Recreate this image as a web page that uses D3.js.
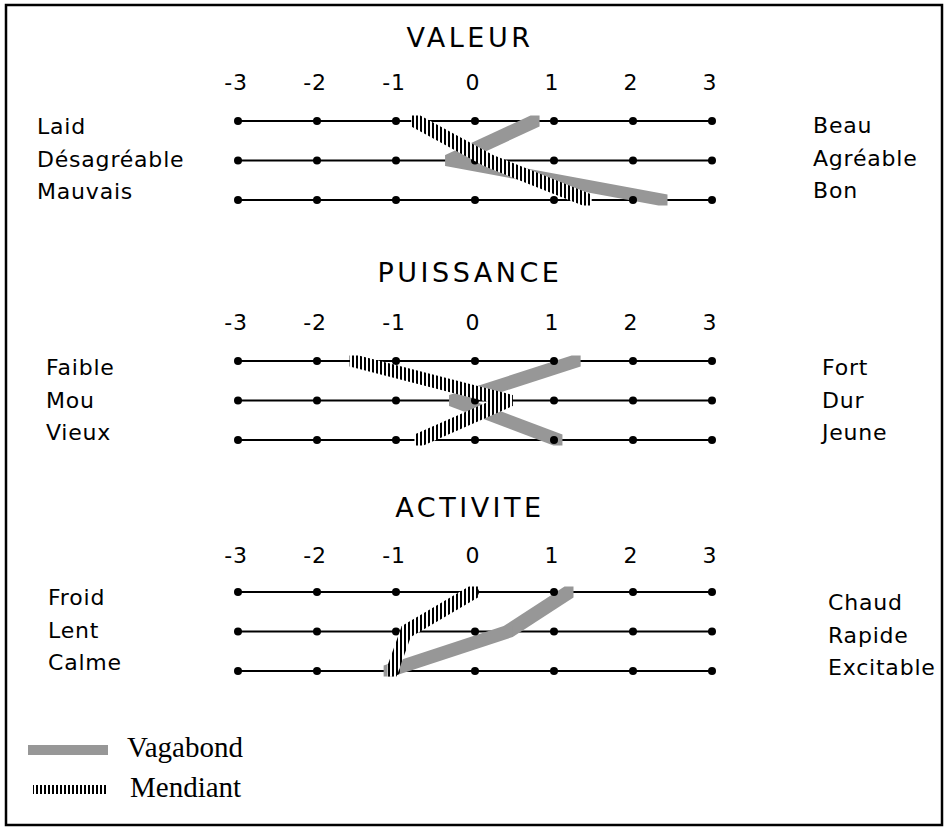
<!DOCTYPE html>
<meta charset="utf-8">
<head>
<style>
  body { margin: 0; background: #fff; }
  svg text { font-family: "DejaVu Sans", sans-serif; fill: #000; }
  .lab { font-size: 22px; letter-spacing: 0.8px; }
  .title { font-size: 27px; letter-spacing: 3.5px; }
  .leg { font-family: "Liberation Serif", "Times New Roman", serif; font-size: 29px; }
</style>
</head>
<body>
<script src="https://d3js.org/d3.v7.min.js"></script>
<script>
// scale points of the semantic differential
var scaleTicks = [-3, -2, -1, 0, 1, 2, 3];
var sections = ["VALEUR", "PUISSANCE", "ACTIVITE"];
var leftLabels = [["Laid", "Désagréable", "Mauvais"], ["Faible", "Mou", "Vieux"], ["Froid", "Lent", "Calme"]];
var rightLabels = [["Beau", "Agréable", "Bon"], ["Fort", "Dur", "Jeune"], ["Chaud", "Rapide", "Excitable"]];
// profile values, one per adjective pair
var vagabond = [[0.76, -0.32, 2.38], [1.28, -0.27, 1.05], [1.19, 0.42, -1.1]];
var mendiant = [[-0.75, 0.17, 1.42], [-1.53, 0.42, -0.71], [-0.02, -0.87, -1.05]];
var seriesNames = ["Vagabond", "Mendiant"];

// layout
var W = 945, H = 830;
var rowTop = [121, 361, 592], rowGap = 39.5;
var titleY = [47, 282, 517], tickY = [90, 330, 563];
var leftX = [37, 46, 48], rightX = [813, 822, 828];
var leftBase = [134, 375, 605], rightBase = [133, 375, 610], labGap = 32.5;
var penW = 9, penH = 11, grey = "#979797";

var svg = d3.select("body").append("svg")
    .attr("width", W).attr("height", H);

var defs = svg.append("defs");
var pat = defs.append("pattern").attr("id", "hatch")
    .attr("patternUnits", "userSpaceOnUse")
    .attr("width", 4).attr("height", 20);
pat.append("rect").attr("width", 4).attr("height", 20).attr("fill", "#fff");
pat.append("rect").attr("width", 2).attr("height", 20).attr("fill", "#000");

// frame
svg.append("rect")
    .attr("x", 6).attr("y", 5).attr("width", 936).attr("height", 820)
    .attr("fill", "none").attr("stroke", "#000").attr("stroke-width", 2.5);

var x = d3.scaleLinear().domain([-3, 3]).range([238, 712]);

// a rectangular pen dragged from one point to the next
function penPath(seg) {
    var pts = [];
    seg.forEach(function(p) {
        [-1, 1].forEach(function(sx) {
            [-1, 1].forEach(function(sy) {
                pts.push([p[0] + sx * penW / 2, p[1] + sy * penH / 2]);
            });
        });
    });
    return "M" + d3.polygonHull(pts).join("L") + "Z";
}

sections.forEach(function(name, s) {
    var y = d3.scaleLinear().domain([0, 2]).range([rowTop[s], rowTop[s] + 2 * rowGap]);
    var g = svg.append("g");

    g.append("text").attr("class", "title")
        .attr("x", 470).attr("y", titleY[s])
        .attr("text-anchor", "middle").text(name);

    g.selectAll(".tick").data(scaleTicks).enter().append("text")
        .attr("class", "lab")
        .attr("x", function(d) { return x(d) - 2; })
        .attr("y", tickY[s])
        .attr("text-anchor", "middle")
        .text(function(d) { return d; });

    // rating lines
    [0, 1, 2].forEach(function(r) {
        g.append("line")
            .attr("x1", x(-3)).attr("x2", x(3))
            .attr("y1", y(r)).attr("y2", y(r))
            .attr("stroke", "#000").attr("stroke-width", 2);
    });

    g.selectAll(".lt").data(leftLabels[s]).enter().append("text")
        .attr("class", "lab")
        .attr("x", leftX[s])
        .attr("y", function(d, i) { return leftBase[s] + i * labGap; })
        .text(function(d) { return d; });

    g.selectAll(".rt").data(rightLabels[s]).enter().append("text")
        .attr("class", "lab")
        .attr("x", rightX[s])
        .attr("y", function(d, i) { return rightBase[s] + i * labGap; })
        .text(function(d) { return d; });

    function segs(vals) {
        return d3.pairs(vals.map(function(v, i) { return [x(v), y(i)]; }));
    }

    g.selectAll(".vag").data(segs(vagabond[s])).enter().append("path")
        .attr("d", penPath).attr("fill", grey);

    var dots = [];
    [0, 1, 2].forEach(function(r) {
        scaleTicks.forEach(function(t) { dots.push({ t: t, r: r }); });
    });
    g.selectAll(".dot").data(dots).enter().append("circle")
        .attr("cx", function(d) { return x(d.t); })
        .attr("cy", function(d) { return y(d.r); })
        .attr("r", 4).attr("fill", "#000");

    g.selectAll(".men").data(segs(mendiant[s])).enter().append("path")
        .attr("d", penPath).attr("fill", "url(#hatch)");
});

// legend
var leg = svg.append("g");
leg.append("rect").attr("x", 28).attr("y", 745).attr("width", 80).attr("height", 10).attr("fill", grey);
leg.append("rect").attr("x", 33).attr("y", 785).attr("width", 75).attr("height", 9).attr("fill", "url(#hatch)");
leg.selectAll(".lg").data(seriesNames).enter().append("text")
    .attr("class", "leg")
    .attr("x", function(d, i) { return i ? 130 : 127; })
    .attr("y", function(d, i) { return 757 + i * 40; })
    .text(function(d) { return d; });
</script>
</body>
